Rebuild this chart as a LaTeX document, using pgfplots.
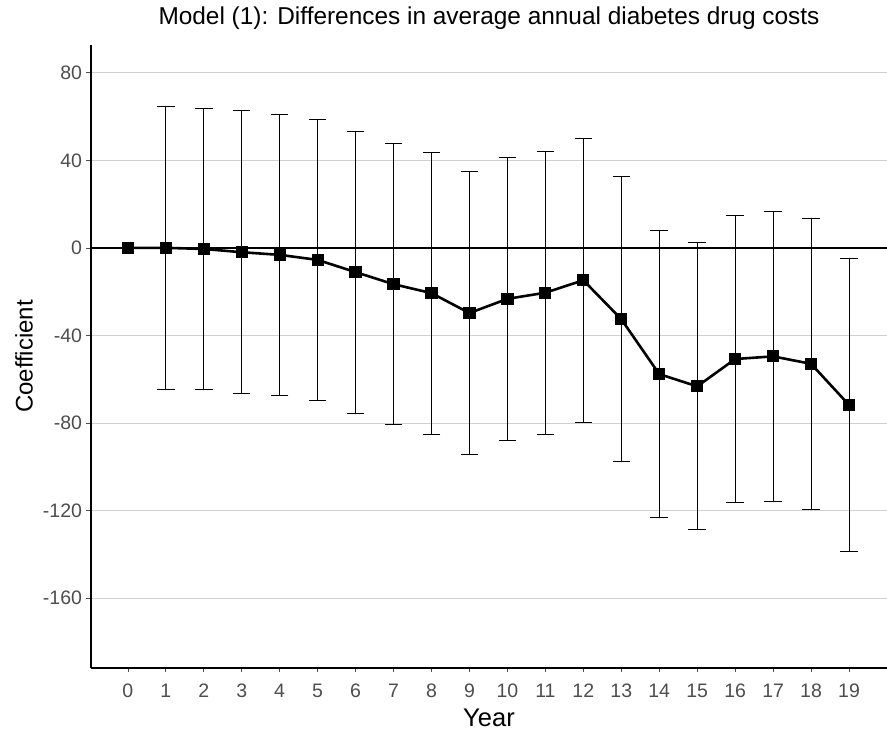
\documentclass[border=0pt]{standalone}
\usepackage{pgfplots}
\pgfplotsset{compat=1.18}
\usepackage{pgfplotstable}
\usepackage{fontspec}
\setmainfont{Liberation Sans}
\definecolor{tickgray}{HTML}{4D4D4D}
\definecolor{gridgray}{HTML}{D0D0D0}
\pgfplotstableread{
x y err
0 0 0
1 0 64.5
2 -0.5 64.0
3 -2 64.6
4 -3.2 64.3
5 -5.5 64.3
6 -11.1 64.4
7 -16.6 64.2
8 -20.7 64.5
9 -29.8 64.7
10 -23.3 64.6
11 -20.5 64.6
12 -14.8 64.9
13 -32.6 65.2
14 -57.7 65.6
15 -63.3 65.6
16 -50.8 65.6
17 -49.6 66.2
18 -53 66.4
19 -71.8 66.8
}\coef
\begin{document}
\begin{tikzpicture}
\begin{axis}[
  scale only axis,
  width=796pt, height=623pt,
  xmin=-0.97, xmax=20, ymin=-192, ymax=92.7,
  axis x line*=bottom, axis y line*=left,
  axis line style={black, line width=1.1pt, -},
  xtick={0,...,19},
  ytick={-160,-120,-80,-40,0,40,80},
  tick align=outside,
  major tick length=4.5pt,
  tick style={tickgray, line width=0.6pt},
  ymajorgrids,
  grid style={gridgray, line width=0.7pt},
  /pgf/number format/assume math mode=true,
  ticklabel style={font=\fontsize{19.5}{22}\selectfont, text=tickgray},
  xticklabel style={anchor=north, text height=0.72em, text depth=0pt, yshift=-14pt},
  yticklabel style={xshift=-1pt},
  xlabel={Year}, ylabel={Coefficient},
  xlabel style={at={(axis description cs:0.5,0)}, anchor=center, yshift=-50pt, font=\fontsize{25.5}{29}\selectfont},
  ylabel style={at={(axis description cs:0,0.5)}, anchor=center, yshift=67pt, font=\fontsize{24}{28}\selectfont},
  title={Model (1): Differences in average annual diabetes drug costs},
  title style={at={(axis description cs:0.5,1)}, anchor=center, yshift=21pt, font=\fontsize{24.4}{28}\selectfont},
  clip=false,
]
\addplot[black, line width=1.6pt, forget plot] coordinates {(-0.97,0) (20,0)};
\addplot[black, line width=2.6pt, mark=square*, mark size=4.8pt, mark options={solid},
  error bars/.cd, y dir=both, y explicit,
  error bar style={black, line width=0.9pt, solid},
  error mark options={rotate=90, black, mark size=6.5pt, line width=0.9pt, scale=1.35}]
  table[x=x, y=y, y error=err] {\coef};
\end{axis}
\pgfresetboundingbox
\path (-91pt,-63pt) rectangle (796pt,668pt);
\end{tikzpicture}
\end{document}
